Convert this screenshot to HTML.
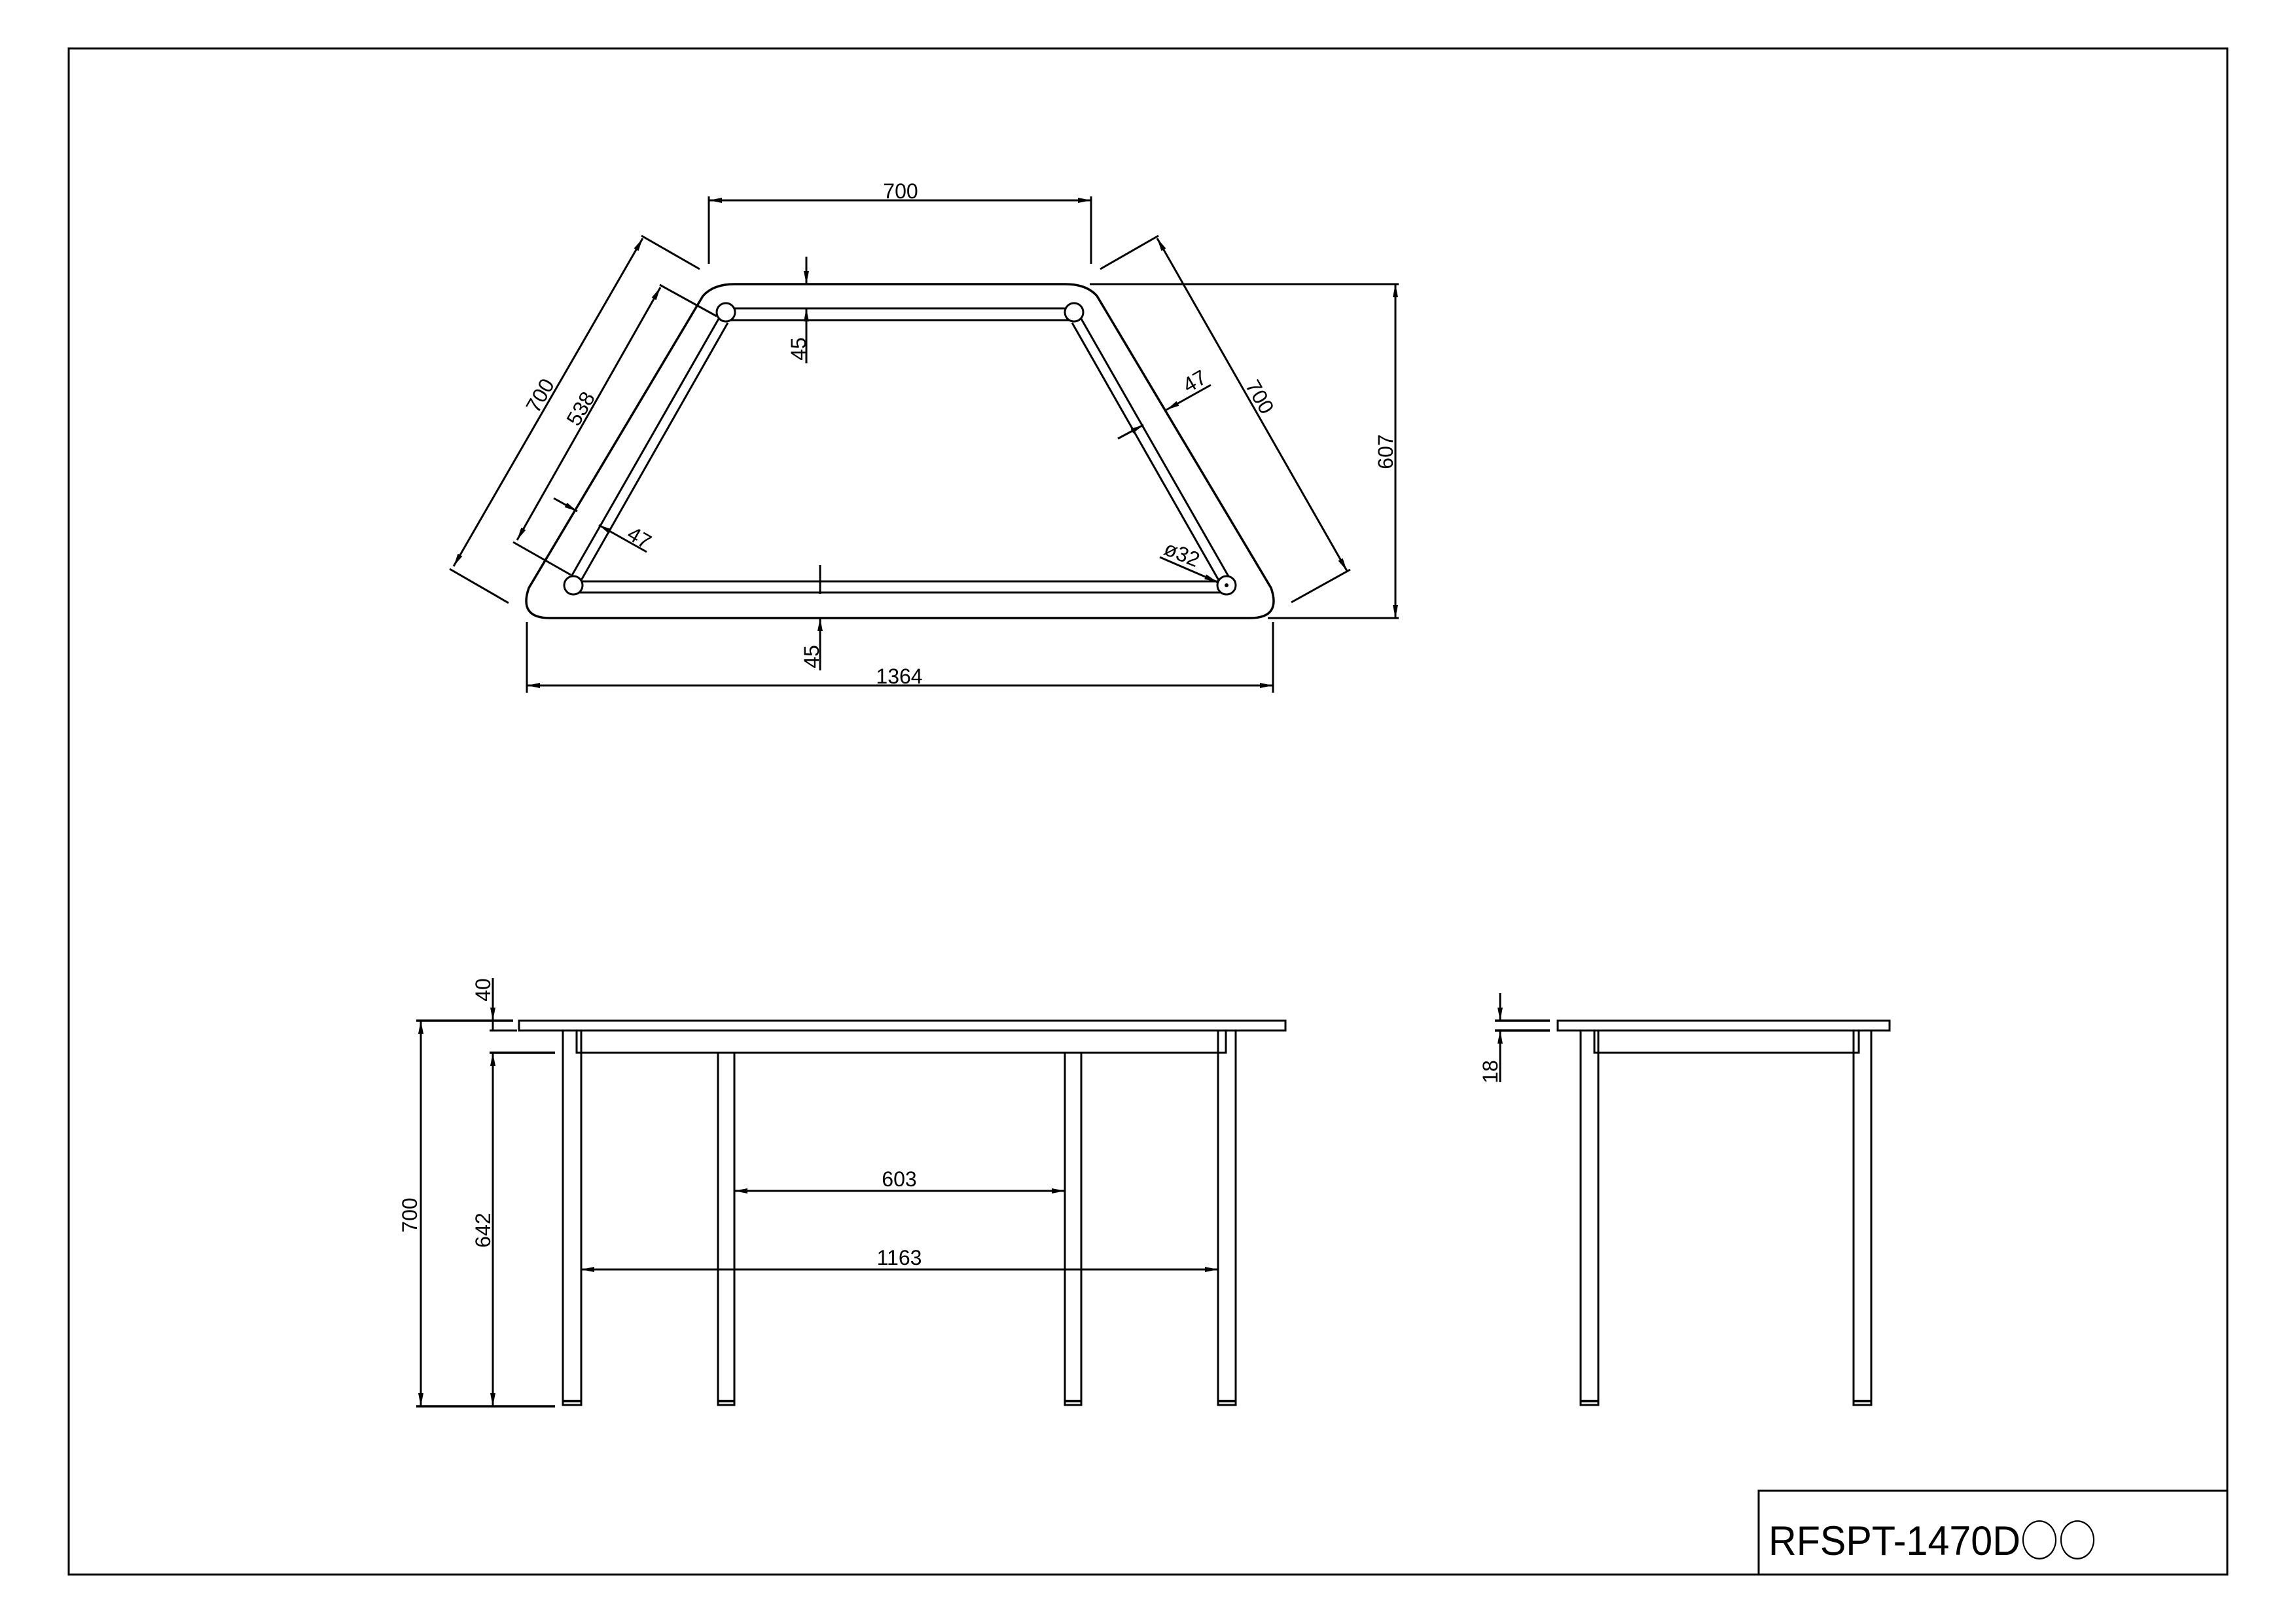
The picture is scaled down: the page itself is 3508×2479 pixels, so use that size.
<!DOCTYPE html>
<html><head><meta charset="utf-8"><style>
html,body{margin:0;padding:0;background:#fff;}
svg{display:block;}
text{font-family:"Liberation Sans","DejaVu Sans",sans-serif;fill:#000;}
</style></head><body>
<svg width="3508" height="2479" viewBox="0 0 3508 2479" xmlns="http://www.w3.org/2000/svg">
<defs>
<marker id="a" viewBox="0 0 20 8" refX="20" refY="4" markerWidth="20" markerHeight="8" markerUnits="userSpaceOnUse" orient="auto-start-reverse">
<path d="M0,0 L20,4 L0,8 Z" fill="#000"/>
</marker>
</defs>
<rect width="3508" height="2479" fill="#fff"/>
<g fill="none" stroke="#000" stroke-width="3">
<!-- border -->
<rect x="105" y="74" width="3298" height="2331"/>
<rect x="2687" y="2277" width="716" height="128"/>

<!-- TOP VIEW -->
<path d="M1122,434 L1628,434 Q1660,434 1676,452 L1942,898 Q1958,944 1910,944 L840,944 Q792,944 808,898 L1074,452 Q1090,434 1122,434 Z" stroke-width="3.5"/>
<line x1="1109" y1="471" x2="1641" y2="471"/>
<line x1="1109" y1="489" x2="1641" y2="489"/>
<line x1="876" y1="888" x2="1874" y2="888"/>
<line x1="876" y1="905" x2="1874" y2="905"/>
<line x1="1098" y1="487" x2="872" y2="882"/>
<line x1="1112" y1="493" x2="887" y2="888"/>
<line x1="1652" y1="487" x2="1878" y2="882"/>
<line x1="1638" y1="493" x2="1863" y2="888"/>
<circle cx="1109" cy="477" r="14" fill="#fff"/>
<circle cx="1641" cy="477" r="14" fill="#fff"/>
<circle cx="876" cy="894" r="14" fill="#fff"/>
<circle cx="1874" cy="894" r="14" fill="#fff"/>
<circle cx="1874" cy="894" r="1.5" fill="#000"/>

<line x1="1083" y1="300" x2="1083" y2="403"/>
<line x1="1667" y1="300" x2="1667" y2="403"/>
<line x1="1083" y1="306" x2="1667" y2="306" marker-start="url(#a)" marker-end="url(#a)"/>
<line x1="980" y1="360" x2="1069" y2="411"/>
<line x1="687" y1="869" x2="777" y2="921"/>
<line x1="982" y1="364" x2="693" y2="865" marker-start="url(#a)" marker-end="url(#a)"/>
<line x1="1008" y1="435" x2="1095" y2="483"/>
<line x1="784" y1="828" x2="872" y2="878"/>
<line x1="1009" y1="439" x2="790" y2="825" marker-start="url(#a)" marker-end="url(#a)"/>
<line x1="846" y1="761" x2="882" y2="781" marker-end="url(#a)"/>
<line x1="988" y1="843" x2="915" y2="802" marker-end="url(#a)"/>
<line x1="1681" y1="411" x2="1770" y2="360"/>
<line x1="1973" y1="920" x2="2063" y2="870"/>
<line x1="1768" y1="364" x2="2058" y2="872" marker-start="url(#a)" marker-end="url(#a)"/>
<line x1="1850" y1="588" x2="1782" y2="626" marker-end="url(#a)"/>
<line x1="1708" y1="670" x2="1747" y2="649" marker-end="url(#a)"/>
<line x1="1772" y1="851" x2="1860" y2="889" marker-end="url(#a)"/>
<line x1="1665" y1="434" x2="2137" y2="434"/>
<line x1="1937" y1="944" x2="2137" y2="944"/>
<line x1="2132" y1="434" x2="2132" y2="944" marker-start="url(#a)" marker-end="url(#a)"/>
<line x1="1232" y1="392" x2="1232" y2="434" marker-end="url(#a)"/>
<line x1="1232" y1="471" x2="1232" y2="555" marker-start="url(#a)"/>
<line x1="1222" y1="434" x2="1245" y2="434"/>
<line x1="1222" y1="471" x2="1245" y2="471"/>
<line x1="1253" y1="863" x2="1253" y2="907"/>
<line x1="1243" y1="905" x2="1268" y2="905"/>
<line x1="1253" y1="1024" x2="1253" y2="944" marker-end="url(#a)"/>
<line x1="1243" y1="944" x2="1268" y2="944"/>
<line x1="805" y1="950" x2="805" y2="1058"/>
<line x1="1945" y1="950" x2="1945" y2="1058"/>
<line x1="805" y1="1047" x2="1945" y2="1047" marker-start="url(#a)" marker-end="url(#a)"/>

<!-- FRONT VIEW -->
<rect x="793" y="1559" width="1171" height="15"/>
<rect x="881" y="1574" width="992" height="34"/>
<rect x="860" y="1574" width="28" height="572"/>
<rect x="1861" y="1574" width="27" height="572"/>
<rect x="1097" y="1608" width="25" height="538"/>
<rect x="1627" y="1608" width="25" height="538"/>
<line x1="860" y1="2140" x2="888" y2="2140" stroke-width="4"/>
<line x1="1861" y1="2140" x2="1888" y2="2140" stroke-width="4"/>
<line x1="1097" y1="2140" x2="1122" y2="2140" stroke-width="4"/>
<line x1="1627" y1="2140" x2="1652" y2="2140" stroke-width="4"/>
<line x1="636" y1="1559" x2="784" y2="1559" stroke-width="3.5"/>
<line x1="636" y1="2148" x2="848" y2="2148" stroke-width="3.5"/>
<line x1="643" y1="1559" x2="643" y2="2148" marker-start="url(#a)" marker-end="url(#a)"/>
<line x1="748" y1="1574" x2="790" y2="1574"/>
<line x1="748" y1="1608" x2="848" y2="1608" stroke-width="3.5"/>
<line x1="753" y1="1608" x2="753" y2="2148" marker-start="url(#a)" marker-end="url(#a)"/>
<line x1="753" y1="1494" x2="753" y2="1559" marker-end="url(#a)"/>
<line x1="753" y1="1559" x2="753" y2="1574"/>
<line x1="1122" y1="1819" x2="1627" y2="1819" marker-start="url(#a)" marker-end="url(#a)"/>
<line x1="888" y1="1939" x2="1861" y2="1939" marker-start="url(#a)" marker-end="url(#a)"/>

<!-- SIDE VIEW -->
<rect x="2380" y="1559" width="507" height="15"/>
<rect x="2436" y="1574" width="404" height="34"/>
<rect x="2415" y="1574" width="27" height="572"/>
<rect x="2832" y="1574" width="27" height="572"/>
<line x1="2415" y1="2140" x2="2442" y2="2140" stroke-width="4"/>
<line x1="2832" y1="2140" x2="2859" y2="2140" stroke-width="4"/>
<line x1="2284" y1="1559" x2="2368" y2="1559" stroke-width="3.5"/>
<line x1="2284" y1="1574" x2="2368" y2="1574" stroke-width="3.5"/>
<line x1="2292" y1="1517" x2="2292" y2="1559" marker-end="url(#a)"/>
<line x1="2292" y1="1653" x2="2292" y2="1574" marker-end="url(#a)"/>
</g>

<g font-size="32">
<text x="1376" y="303" text-anchor="middle">700</text>
<text transform="translate(825,604) rotate(-60)" text-anchor="middle" dy="0.35em">700</text>
<text transform="translate(887,624) rotate(-60)" text-anchor="middle" dy="0.35em">538</text>
<text transform="translate(977,821) rotate(30)" text-anchor="middle" dy="0.35em">47</text>
<text transform="translate(1925,606) rotate(60)" text-anchor="middle" dy="0.35em">700</text>
<text transform="translate(1825,582) rotate(-30)" text-anchor="middle" dy="0.35em">47</text>
<text transform="translate(1806,846) rotate(22)" text-anchor="middle" dy="0.35em">ø32</text>
<text transform="translate(2117,690) rotate(-90)" text-anchor="middle" dy="0.35em">607</text>
<text transform="translate(1220,533) rotate(-90)" text-anchor="middle" dy="0.35em">45</text>
<text transform="translate(1240,1003) rotate(-90)" text-anchor="middle" dy="0.35em">45</text>
<text x="1374" y="1044" text-anchor="middle">1364</text>
<text transform="translate(626,1856) rotate(-90)" text-anchor="middle" dy="0.35em">700</text>
<text transform="translate(738,1879) rotate(-90)" text-anchor="middle" dy="0.35em">642</text>
<text transform="translate(738,1512) rotate(-90)" text-anchor="middle" dy="0.35em">40</text>
<text x="1374" y="1812" text-anchor="middle">603</text>
<text x="1374" y="1932" text-anchor="middle">1163</text>
<text transform="translate(2277,1637) rotate(-90)" text-anchor="middle" dy="0.35em">18</text>
</g>
<text x="2702" y="2375" font-size="63" textLength="385" lengthAdjust="spacingAndGlyphs">RFSPT-1470D</text>
<text x="3087" y="2377" font-size="66" font-family="'Noto Sans CJK JP', sans-serif" textLength="116" lengthAdjust="spacingAndGlyphs" style="font-family:'Noto Sans CJK JP',sans-serif">○○</text>
</svg>
</body></html>
